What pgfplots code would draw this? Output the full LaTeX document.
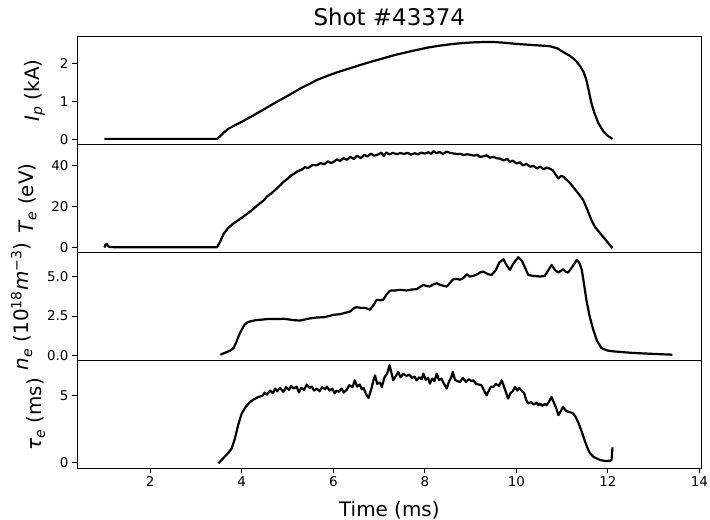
\documentclass[border=0pt]{standalone}
\usepackage{fontspec}
\setmainfont{DejaVu Sans}
\usepackage{pgfplots}
\pgfplotsset{compat=1.18}
\begin{document}
\begin{tikzpicture}
\useasboundingbox (0,0) rectangle (710bp,520bp);
\pgfplotsset{
  every axis/.append style={
    scale only axis, width=624.7bp, height=107.9bp,
    xmin=0.40, xmax=14.05,
    axis line style={line width=0.9bp, black},
    tick style={line width=0.9bp, black},
    tick align=outside, major tick length=5bp,
    xtick pos=bottom, ytick pos=left,
    minor tick num=0,
    /pgf/number format/assume math mode=true,
    tick label style={font=\fontsize{13.5}{16}\selectfont},
    label style={font=\fontsize{20}{24}\selectfont},
    ylabel shift=8bp,
    every axis plot post/.append style={black, line width=2.2bp, line join=round, mark=none},
  },
}
% ---------- Ip ----------
\begin{axis}[name=a1, at={(77bp,483.3bp)}, anchor=north west,
  ymin=-0.13, ymax=2.71, ytick={0,1,2}, xtick=\empty,
  ylabel={\textit{I}\textsubscript{\textit{p}} (kA)},
  title={Shot \#43374},
  title style={font=\fontsize{23}{27}\selectfont, at={(0.5,1)}, anchor=base, yshift=5bp},
]
\addplot coordinates {
(1.00,0.02)(3.46,0.02)(3.52,0.08)(3.60,0.18)(3.70,0.28)(3.85,0.38)(4.00,0.47)
(4.18,0.59)(4.40,0.74)(4.60,0.88)(4.80,1.02)(4.91,1.09)(5.10,1.22)(5.30,1.36)
(5.50,1.48)(5.64,1.57)(5.85,1.67)(6.10,1.78)(6.37,1.88)(6.60,1.97)(6.85,2.06)
(7.09,2.14)(7.35,2.23)(7.60,2.30)(7.82,2.36)(8.05,2.42)(8.30,2.47)(8.55,2.51)
(8.80,2.54)(9.05,2.56)(9.28,2.57)(9.50,2.57)(9.75,2.55)(10.00,2.52)(10.25,2.50)
(10.50,2.48)(10.73,2.46)(10.90,2.40)(11.02,2.31)(11.15,2.22)(11.25,2.13)
(11.32,2.05)(11.40,1.92)(11.47,1.78)(11.53,1.57)(11.58,1.30)(11.64,0.96)
(11.70,0.72)(11.79,0.44)(11.90,0.22)(12.00,0.10)(12.10,0.02)
};
\end{axis}
% ---------- Te ----------
\begin{axis}[name=a2, at={(a1.south west)}, anchor=north west,
  ymin=-2.4, ymax=50.2, ytick={0,20,40}, xtick=\empty,
  ylabel={\textit{T}\textsubscript{\textit{e}} (eV)},
]
\addplot coordinates {
(1.00,0.0)(1.02,1.3)(1.05,1.8)(1.08,0.6)(1.12,0.3)(1.20,0.2)(3.46,0.2)
(3.52,2.5)(3.60,6.5)(3.70,9.5)(3.82,11.8)(4.00,14.5)(4.18,17.5)(4.30,19.8)
(4.40,21.6)(4.48,23.0)(4.55,24.8)(4.65,26.5)(4.75,28.5)(4.85,30.6)(4.91,32.0)
(5.00,33.5)(5.08,35.2)(5.15,36.0)(5.22,37.3)(5.30,37.8)(5.38,39.2)(5.45,38.8)
(5.55,40.3)(5.64,40.1)(5.72,41.2)(5.80,40.6)(5.88,42.0)(5.95,41.2)(6.00,41.7)
(6.08,43.0)(6.15,42.2)(6.22,43.6)(6.30,42.8)(6.37,44.2)(6.45,43.2)(6.52,44.8)
(6.60,43.6)(6.68,45.2)(6.75,44.4)(6.82,45.8)(6.90,44.8)(7.00,45.6)(7.05,46.3)
(7.10,44.6)(7.16,46.4)(7.22,45.4)(7.30,46.1)(7.40,45.5)(7.46,46.1)(7.55,45.6)
(7.62,46.2)(7.70,45.3)(7.78,46.0)(7.85,45.4)(7.92,46.3)(8.00,45.8)(8.08,46.5)
(8.14,45.6)(8.19,47.1)(8.25,46.0)(8.32,46.6)(8.40,45.6)(8.47,46.8)(8.55,46.2)
(8.62,45.9)(8.70,45.6)(8.78,45.7)(8.85,45.1)(8.92,45.5)(9.00,45.2)(9.08,44.8)
(9.14,45.3)(9.20,44.2)(9.28,44.5)(9.35,45.0)(9.42,43.8)(9.50,44.2)(9.58,43.5)
(9.64,43.4)(9.72,42.5)(9.80,43.2)(9.86,41.8)(9.92,42.4)(10.00,41.0)(10.08,41.5)
(10.15,40.0)(10.22,40.8)(10.30,39.4)(10.37,39.8)(10.45,38.6)(10.52,39.4)
(10.60,38.2)(10.66,39.0)(10.73,38.5)(10.80,37.6)(10.86,35.5)(10.92,33.7)
(10.98,35.0)(11.03,34.5)(11.10,33.0)(11.17,31.5)(11.24,29.6)(11.35,26.5)
(11.46,23.2)(11.55,18.5)(11.64,13.4)(11.72,10.0)(11.83,7.0)(11.95,3.8)(12.10,-0.3)
};
\end{axis}
% ---------- ne ----------
\begin{axis}[name=a3, at={(a2.south west)}, anchor=north west,
  ymin=-0.30, ymax=6.52, ytick={0,2.5,5}, xtick=\empty,
  yticklabel style={/pgf/number format/.cd, fixed, fixed zerofill, precision=1},
  ylabel={\textit{n}\textsubscript{\textit{e}} (10\textsuperscript{18}\textit{m}\textsuperscript{−3})},
]
\addplot coordinates {
(3.53,0.06)(3.65,0.20)(3.75,0.32)(3.82,0.48)(3.88,0.85)(3.94,1.30)(4.00,1.64)
(4.06,1.95)(4.12,2.10)(4.18,2.16)(4.30,2.24)(4.45,2.28)(4.55,2.31)(4.70,2.32)
(4.80,2.31)(4.91,2.33)(5.05,2.28)(5.15,2.24)(5.28,2.22)(5.40,2.30)(5.50,2.36)
(5.64,2.41)(5.80,2.43)(5.90,2.50)(6.00,2.58)(6.15,2.62)(6.25,2.70)(6.37,2.79)
(6.45,3.00)(6.51,3.07)(6.60,3.02)(6.70,3.02)(6.80,2.90)(6.88,3.20)(6.95,3.53)
(7.02,3.50)(7.09,3.53)(7.16,3.85)(7.24,4.11)(7.35,4.12)(7.46,4.16)(7.60,4.12)
(7.72,4.18)(7.82,4.20)(7.90,4.35)(7.97,4.47)(8.04,4.40)(8.11,4.37)(8.18,4.50)
(8.26,4.58)(8.33,4.48)(8.40,4.42)(8.48,4.37)(8.55,4.60)(8.62,4.83)(8.70,4.85)
(8.77,4.80)(8.84,4.90)(8.92,5.15)(8.98,5.00)(9.06,5.04)(9.15,5.15)(9.22,5.28)
(9.28,5.31)(9.38,5.15)(9.46,5.10)(9.55,5.40)(9.63,5.90)(9.72,6.09)(9.79,5.70)
(9.86,5.42)(9.93,5.80)(10.04,6.22)(10.12,6.00)(10.20,5.50)(10.26,5.10)(10.35,5.05)
(10.45,5.02)(10.52,5.00)(10.62,5.04)(10.70,5.40)(10.77,5.73)(10.85,5.40)(10.92,5.25)
(11.02,5.46)(11.08,5.30)(11.13,5.25)(11.22,5.60)(11.32,6.05)(11.38,5.85)(11.43,5.42)
(11.48,4.50)(11.53,3.53)(11.60,2.50)(11.68,1.64)(11.76,0.95)(11.86,0.48)(11.98,0.33)
(12.12,0.27)(12.55,0.17)(13.00,0.11)(13.41,0.06)
};
\end{axis}
% ---------- tau_e ----------
\begin{axis}[name=a4, at={(a3.south west)}, anchor=north west,
  ymin=-0.42, ymax=7.66, ytick={0,5}, xtick={2,4,...,14},
  ylabel={\textit{τ}\textsubscript{\textit{e}} (ms)},
  xlabel={Time (ms)},
  xlabel style={at={(0.5,0)}, anchor=base, yshift=-48.4bp},
]
\addplot coordinates {
(3.49,-0.05)(3.60,0.35)(3.70,0.70)(3.78,1.07)(3.85,1.8)(3.92,2.8)(4.00,3.69)
(4.08,4.15)(4.18,4.55)(4.27,4.75)(4.36,4.92)(4.45,5.00)(4.50,5.25)(4.55,5.10)
(4.62,5.40)(4.68,5.20)(4.73,5.55)(4.77,5.35)(4.84,5.60)(4.91,5.30)(4.97,5.65)
(5.03,5.45)(5.08,5.75)(5.13,5.55)(5.20,5.70)(5.25,5.25)(5.30,5.60)(5.36,5.45)
(5.42,5.85)(5.48,5.60)(5.53,5.70)(5.58,5.40)(5.64,5.55)(5.70,5.35)(5.76,5.65)
(5.82,5.50)(5.86,5.70)(5.92,5.40)(5.98,5.55)(6.03,5.20)(6.07,5.40)(6.12,5.30)
(6.18,5.55)(6.23,5.25)(6.29,5.45)(6.35,5.80)(6.42,5.65)(6.47,6.17)(6.52,5.70)
(6.58,5.85)(6.62,5.50)(6.66,5.60)(6.72,5.10)(6.77,4.85)(6.83,5.50)(6.88,6.20)
(6.91,6.54)(6.96,5.90)(7.02,6.00)(7.06,5.67)(7.12,6.40)(7.18,6.70)(7.23,7.29)
(7.28,6.60)(7.31,6.17)(7.37,6.50)(7.42,6.79)(7.47,6.40)(7.53,6.65)(7.60,6.50)
(7.66,6.60)(7.72,6.35)(7.78,6.45)(7.82,6.17)(7.88,6.40)(7.93,6.25)(7.97,6.67)
(8.02,6.20)(8.07,6.35)(8.11,5.92)(8.16,6.30)(8.21,6.10)(8.26,6.67)(8.31,6.20)
(8.36,6.30)(8.42,5.90)(8.48,5.55)(8.53,6.10)(8.58,6.40)(8.61,6.79)(8.66,6.20)
(8.72,6.10)(8.77,6.04)(8.83,6.35)(8.90,6.05)(8.96,6.25)(9.02,6.10)(9.06,6.17)
(9.12,5.90)(9.18,5.85)(9.24,5.80)(9.30,5.35)(9.35,5.05)(9.40,5.40)(9.45,5.70)
(9.50,5.67)(9.55,5.90)(9.62,5.75)(9.68,6.17)(9.73,5.70)(9.78,5.20)(9.82,4.80)
(9.87,5.20)(9.92,5.35)(9.97,5.67)(10.02,5.40)(10.06,5.60)(10.11,5.42)(10.17,5.20)
(10.22,4.65)(10.26,4.43)(10.32,4.55)(10.38,4.35)(10.44,4.50)(10.48,4.30)(10.52,4.42)
(10.57,4.25)(10.62,4.40)(10.66,4.30)(10.71,4.55)(10.77,4.92)(10.82,4.50)(10.88,4.00)
(10.92,3.56)(10.97,3.85)(11.02,4.18)(11.08,3.90)(11.14,3.80)(11.20,3.75)(11.24,3.69)
(11.30,3.40)(11.36,2.95)(11.43,2.31)(11.50,1.60)(11.56,1.05)(11.61,0.70)(11.70,0.40)
(11.83,0.20)(11.95,0.12)(12.05,0.15)(12.08,0.20)(12.10,1.15)
};
\end{axis}
\end{tikzpicture}
\end{document}
